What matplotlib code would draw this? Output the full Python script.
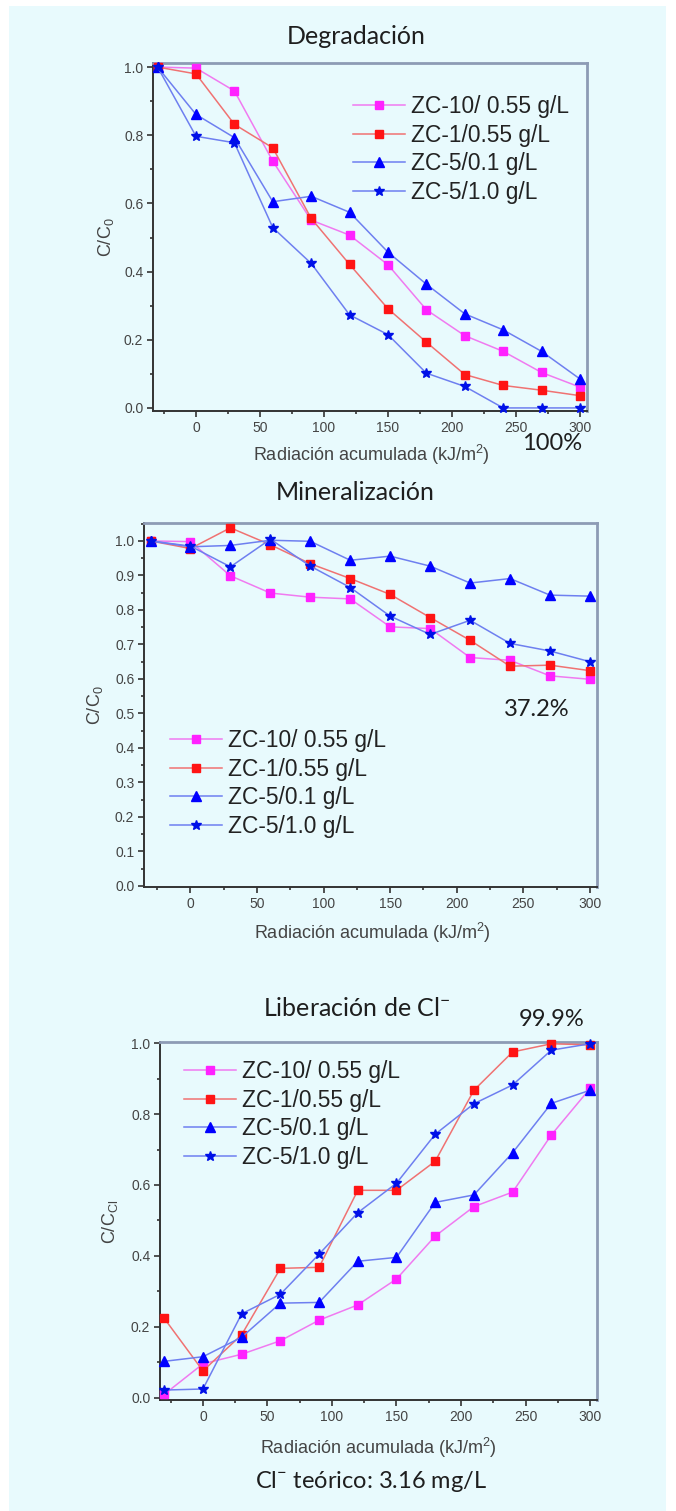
import numpy as np
import matplotlib.pyplot as plt
from matplotlib.ticker import MultipleLocator
from matplotlib.patches import Rectangle

# accumulated radiation (kJ/m2) for every sample
radiation = [-30, 0, 30, 60, 90, 120, 150, 180, 210, 240, 270, 300]

labels = ["ZC-10/ 0.55 g/L", "ZC-1/0.55 g/L", "ZC-5/0.1 g/L", "ZC-5/1.0 g/L"]

# degradation C/C0
deg_zc10 = [1.0, 0.997, 0.93, 0.724, 0.551, 0.507, 0.42, 0.288, 0.212, 0.166, 0.104, 0.061]
deg_zc1 = [1.0, 0.98, 0.832, 0.763, 0.556, 0.421, 0.291, 0.193, 0.098, 0.066, 0.052, 0.036]
deg_zc5_01 = [1.0, 0.861, 0.793, 0.605, 0.621, 0.574, 0.457, 0.363, 0.276, 0.229, 0.166, 0.085]
deg_zc5_10 = [1.0, 0.797, 0.778, 0.529, 0.424, 0.273, 0.215, 0.102, 0.063, 0.0, 0.0, 0.0]

# mineralization C/C0 (TOC)
min_zc10 = [1.0, 0.998, 0.899, 0.849, 0.837, 0.832, 0.751, 0.746, 0.662, 0.654, 0.609, 0.599]
min_zc1 = [1.0, 0.978, 1.038, 0.989, 0.934, 0.891, 0.845, 0.778, 0.712, 0.637, 0.64, 0.624]
min_zc5_01 = [1.0, 0.983, 0.987, 1.002, 0.999, 0.944, 0.956, 0.927, 0.878, 0.891, 0.843, 0.84]
min_zc5_10 = [1.0, 0.985, 0.925, 1.005, 0.927, 0.865, 0.782, 0.729, 0.77, 0.703, 0.681, 0.65]

# chloride release C/C_Cl
cl_zc10 = [0.01, 0.096, 0.123, 0.161, 0.219, 0.262, 0.335, 0.456, 0.539, 0.58, 0.741, 0.872]
cl_zc1 = [0.224, 0.076, 0.178, 0.365, 0.368, 0.585, 0.585, 0.667, 0.867, 0.975, 0.998, 0.995]
cl_zc5_01 = [0.103, 0.116, 0.171, 0.267, 0.269, 0.385, 0.396, 0.551, 0.572, 0.691, 0.83, 0.867]
cl_zc5_10 = [0.022, 0.025, 0.237, 0.292, 0.405, 0.522, 0.605, 0.743, 0.829, 0.882, 0.98, 0.998]

# (line colour, marker colour, marker, marker size)
styles = [
    ("#F07AF0", "#FF22FF", "s", 5.2),
    ("#F07272", "#FF1414", "s", 5.2),
    ("#6E7FF0", "#0000FF", "^", 6.6),
    ("#6E7FF0", "#0010E8", "*", 7.2),
]

W, H = 676, 1511
BG = "#E8FAFD"
TICK_FONT = ["Liberation Sans", "DejaVu Sans"]
GILL = ["Lato", "DejaVu Sans"]

fig = plt.figure(figsize=(W / 100, H / 100), dpi=100)
fig.patch.set_facecolor("white")
fig.patches.append(Rectangle((9 / W, 0), (666 - 9) / W, (H - 6) / H,
                             transform=fig.transFigure, facecolor=BG,
                             edgecolor="none", zorder=-10))


def px(x, y):
    return x / W, 1 - y / H


def make_axes(left, right, top, bottom):
    return fig.add_axes([left / W, 1 - bottom / H, (right - left) / W, (bottom - top) / H])


def panel(ax, series, xlim, ylim, yminor, legend_xy):
    for vals, lab, (lc, mc, mk, ms) in zip(series, labels, styles):
        ax.plot(radiation, vals, color=lc, lw=1.1, marker=mk, ms=ms,
                mfc=mc, mec=mc, label=lab, clip_on=False, zorder=3)
    ax.set_facecolor("none")
    ax.set_xlim(*xlim)
    ax.set_ylim(*ylim)
    ax.xaxis.set_major_locator(MultipleLocator(50))
    ax.xaxis.set_minor_locator(MultipleLocator(25))
    ax.yaxis.set_minor_locator(MultipleLocator(yminor))
    ax.tick_params(which="both", direction="out", colors="#333333", width=1.2,
                   labelsize=10, top=False, right=False)
    ax.tick_params(which="major", length=4, pad=3)
    ax.tick_params(which="minor", length=2.5)
    for s in ("left", "bottom"):
        ax.spines[s].set_color("#333333")
        ax.spines[s].set_linewidth(1.4)
    for s in ("top", "right"):
        ax.spines[s].set_color("#8D9BB5")
        ax.spines[s].set_linewidth(2.0)
    leg = ax.legend(loc="upper left", bbox_to_anchor=px(*legend_xy),
                    bbox_transform=fig.transFigure, frameon=False, numpoints=1,
                    prop={"family": TICK_FONT, "size": 16.4}, handlelength=2.3,
                    handletextpad=0.25, labelspacing=0.25, borderpad=0, borderaxespad=0)
    for t in leg.get_texts():
        t.set_color("#222222")


# Degradation
ax1 = make_axes(153, 587, 63, 411)
panel(ax1, [deg_zc10, deg_zc1, deg_zc5_01, deg_zc5_10],
      (-33.6, 305.5), (-0.009, 1.012), 0.1, (353, 95))
ax1.yaxis.set_major_locator(MultipleLocator(0.2))
ax1.yaxis.set_major_formatter(lambda v, p: f"{v:.1f}")

# Mineralization
ax2 = make_axes(144, 597, 523, 887)
panel(ax2, [min_zc10, min_zc1, min_zc5_01, min_zc5_10],
      (-34.9, 305.3), (-0.003, 1.052), 0.05, (170, 729))
ax2.yaxis.set_major_locator(MultipleLocator(0.1))
ax2.yaxis.set_major_formatter(lambda v, p: f"{v:.1f}")

# Chloride release
ax3 = make_axes(160, 597, 1042, 1400)
panel(ax3, [cl_zc10, cl_zc1, cl_zc5_01, cl_zc5_10],
      (-33.3, 305.4), (-0.006, 1.003), 0.1, (184, 1060))
ax3.yaxis.set_major_locator(MultipleLocator(0.2))
ax3.yaxis.set_major_formatter(lambda v, p: f"{v:.1f}")

for ax in (ax1, ax2, ax3):
    for t in ax.get_xticklabels() + ax.get_yticklabels():
        t.set_family(TICK_FONT)
        t.set_color("#444444")

xlab = "Radiación acumulada (kJ/m$^\\mathregular{2}$)"
lab_kw = dict(family=TICK_FONT, size=13, color="#444444", ha="center", va="center")
fig.text(*px(371, 455), xlab, **lab_kw)
fig.text(*px(372, 933), xlab, **lab_kw)
fig.text(*px(378, 1448), xlab, **lab_kw)

ylab_kw = dict(lab_kw, rotation=90)
fig.text(*px(106, 237), "C/C$_\\mathregular{0}$", **ylab_kw)
fig.text(*px(95, 705), "C/C$_\\mathregular{0}$", **ylab_kw)
fig.text(*px(110, 1222), "C/C$_\\mathregular{Cl}$", **ylab_kw)

title_kw = dict(family=GILL, size=18, color="#1E1E1E", ha="center", va="center")
fig.text(*px(356, 37), "Degradación", **title_kw)
fig.text(*px(355, 493), "Mineralización", **title_kw)
fig.text(*px(357, 1008), "Liberación de Cl$^\\mathregular{-}$", **title_kw)

note_kw = dict(family=GILL, size=17, color="#1E1E1E", ha="center", va="center")
fig.text(*px(552, 443), "100%", **note_kw)
fig.text(*px(537, 710), "37.2%", **note_kw)
fig.text(*px(552, 1020), "99.9%", **note_kw)
fig.text(*px(371, 1481), "Cl$^\\mathregular{-}$ teórico: 3.16 mg/L", **note_kw)

fig.savefig("out.png", dpi=100, facecolor=fig.get_facecolor())
